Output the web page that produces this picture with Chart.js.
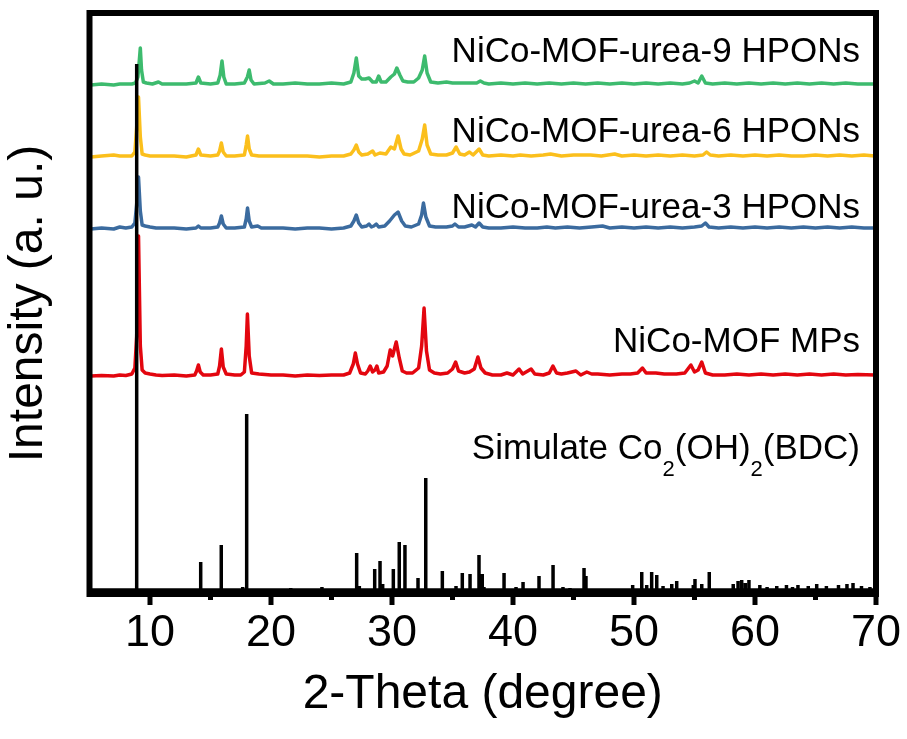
<!DOCTYPE html>
<html>
<head>
<meta charset="utf-8">
<script src="https://cdn.jsdelivr.net/npm/chart.js@4/dist/chart.umd.min.js"></script>
<style>
  html, body { margin: 0; padding: 0; background: #fff; }
  #wrap { width: 907px; height: 739px; }
</style>
</head>
<body>
<div id="wrap"><canvas id="c" width="907" height="739"></canvas></div>
<script>
// ---- data (2-theta, intensity relative to each pattern's own baseline) ----
const xTicks = [10, 20, 30, 40, 50, 60, 70];
const seriesNames = ['NiCo-MOF-urea-9 HPONs', 'NiCo-MOF-urea-6 HPONs', 'NiCo-MOF-urea-3 HPONs', 'NiCo-MOF MPs'];
const seriesOffsets = [509, 437, 365, 218];   // vertical stacking offsets (a.u.)
const simOffset = 4;

const urea9 = [[5.1,0],[6,1],[7,0],[7.5,1],[8,1],[8.5,1],[8.8,2],[9.0,8],[9.12,25],[9.2,37],[9.3,15],[9.45,3],[9.7,2],[10.2,1],[10.7,3],[11,1],[12,1],[13,1],[13.8,2],[14.0,8],[14.2,2],[15,1],[15.6,2],[15.8,10],[15.95,24],[16.1,8],[16.3,1],[17,1],[17.8,2],[18.05,8],[18.2,15],[18.35,5],[18.6,1],[19.5,2],[19.85,4],[20.2,1],[21,1],[22,2],[23,1],[24,1],[25,2],[26,1],[26.6,3],[26.85,12],[27.05,27],[27.25,9],[27.5,6],[27.8,6],[28.1,7],[28.4,3],[28.7,3],[28.9,9],[29.1,3],[29.5,3],[29.9,8],[30.2,11],[30.4,17],[30.65,10],[30.9,4],[31.3,3],[31.8,3],[32.2,7],[32.5,15],[32.7,29],[32.9,12],[33.2,3],[33.8,2],[34.5,3],[35,2],[36,2],[37.0,2],[37.3,4],[37.6,2],[38,1],[39,2],[40,1],[41,2],[42,1],[43,2],[44,1],[45,2],[46,1],[47,2],[48,1],[49,2],[50,1],[51,2],[52,1],[53,2],[54,1],[54.6,2],[55.0,4],[55.3,2],[55.6,9],[55.9,2],[56.5,1],[57.5,2],[58.5,1],[59.5,2],[60.5,1],[61.5,2],[62.5,1],[63.5,2],[64.5,1],[65.5,2],[66.5,1],[67.5,2],[68.5,1],[69.9,1]];

const urea6 = [[5.1,0],[6,1],[7,2],[7.5,1],[8,1],[8.5,1],[8.75,5],[8.9,30],[9.05,60],[9.2,20],[9.35,3],[9.6,2],[10,1],[11,1],[12,1],[13,0],[13.8,2],[14.0,8],[14.2,2],[15,1],[15.6,2],[15.75,6],[15.9,14],[16.05,5],[16.3,1],[17,1],[17.8,2],[17.95,12],[18.06,21],[18.2,8],[18.4,2],[19,1],[20,1],[21,1],[22,1],[23,1],[24,0],[25,1],[26,1],[26.6,3],[26.85,7],[27.05,12],[27.25,5],[27.5,2],[28.0,3],[28.4,6],[28.6,2],[29.0,4],[29.5,3],[29.9,10],[30.2,8],[30.5,21],[30.75,8],[31.0,3],[31.5,2],[32.2,6],[32.5,18],[32.7,32],[32.9,12],[33.2,3],[33.8,2],[34.5,2],[35.0,4],[35.3,10],[35.6,3],[36.0,2],[36.4,5],[36.7,2],[37.2,8],[37.5,2],[38,1],[39,2],[40,1],[40.6,2],[41.5,1],[42.5,2],[43.1,3],[44,1],[45,2],[46.4,2],[47.3,1],[48.4,3],[49,1],[50,2],[51,1],[52,2],[53,1],[54,2],[55,1],[55.7,2],[56.0,5],[56.3,2],[57,1],[58,2],[59,1],[60,2],[61,1],[62,2],[63,1],[64,1],[65,2],[66,1],[67,2],[68,1],[69,2],[69.9,1]];

const urea3 = [[5.1,0],[6,1],[7,0],[7.5,2],[8,1],[8.5,2],[8.75,6],[8.9,25],[9.05,52],[9.2,18],[9.35,4],[9.6,3],[10,2],[10.5,1],[11,1],[12,1],[13,0],[13.8,1],[14.0,3],[14.2,1],[15,1],[15.6,2],[15.75,6],[15.9,13],[16.05,5],[16.3,1],[17,1],[17.8,2],[17.95,10],[18.06,21],[18.2,8],[18.4,2],[18.9,3],[19.2,1],[20,1],[21,1],[22,0],[23,1],[24,1],[25,0],[26,1],[26.6,3],[26.85,8],[27.05,14],[27.25,6],[27.5,2],[27.9,3],[28.1,5],[28.3,2],[28.5,3],[28.7,5],[28.9,2],[29.4,3],[29.8,8],[30.2,14],[30.5,17],[30.8,8],[31.1,3],[31.6,2],[32.2,5],[32.45,14],[32.6,26],[32.8,12],[33.1,3],[33.6,2],[34.5,2],[35.0,3],[35.2,5],[35.5,2],[36,2],[36.6,4],[36.9,2],[37.2,6],[37.5,2],[38,1],[39,1],[40,2],[41,1],[42,1],[42.8,2],[43.5,1],[44.5,2],[45.5,1],[46.5,2],[47.4,3],[48,1],[49,2],[50,1],[51,2],[52,1],[53,2],[54,1],[55,2],[55.6,3],[55.9,6],[56.2,2],[57,1],[58,2],[59,1],[60,2],[61,1],[62,2],[63,1],[64,2],[65,1],[66,2],[67,1],[68,2],[69,1],[69.9,1]];

const mps = [[5.1,0],[6,0.5],[7,0],[7.5,1],[8,0.5],[8.5,2],[8.75,8],[8.9,40],[9.05,140],[9.2,30],[9.35,6],[9.6,3],[10,2],[10.5,1],[11,0.5],[12,1],[13,0],[13.7,1],[13.85,5],[14.0,11],[14.15,4],[14.4,1],[15,1],[15.6,2],[15.75,10],[15.9,27],[16.05,9],[16.3,2],[17,1],[17.5,1],[17.8,4],[17.95,30],[18.05,62],[18.2,20],[18.4,3],[19,2],[20,1],[21,1],[22,0],[23,1],[24,0.5],[25,1],[26,1],[26.5,3],[26.8,12],[26.97,23],[27.15,12],[27.4,3],[27.8,2],[28.0,5],[28.2,10],[28.4,4],[28.6,6],[28.75,10],[28.9,3],[29.3,4],[29.6,10],[29.85,26],[30.05,20],[30.35,34],[30.6,18],[30.85,5],[31.2,3],[31.7,3],[32.2,8],[32.45,30],[32.65,68],[32.85,25],[33.1,6],[33.5,3],[34,2],[34.6,3],[35.0,7],[35.26,14],[35.5,5],[36,3],[36.4,4],[36.8,7],[37.1,19],[37.35,8],[37.7,3],[38.3,1],[39,1],[39.5,3],[40,1],[40.5,7],[40.8,2],[41.5,7],[41.8,2],[42.5,1],[43.0,3],[43.3,10],[43.6,3],[44,2],[44.5,3],[45.2,5],[45.6,1],[46.1,4],[46.5,2],[47,2],[48,1],[49,2],[49.7,2],[50.3,3],[50.7,8],[51.0,3],[51.8,3],[52.5,2],[53,2],[53.5,2],[54.2,3],[54.7,11],[55.0,4],[55.3,6],[55.6,14],[55.9,3],[56.5,1],[57.5,1],[58.5,2],[59.5,1],[60.5,2],[61.5,1],[62.5,2],[63.5,1],[64.5,2],[65.5,1],[66.5,2],[67.5,1],[68.5,1.5],[69.9,1]];

// simulated Co2(OH)2(BDC) reflections
const stickPos = [8.90,14.19,15.89,17.66,17.99,21.63,24.21,27.08,27.30,28.57,29.01,29.23,30.11,30.60,31.07,32.15,32.79,34.16,35.29,35.81,36.45,37.19,37.46,37.60,39.26,40.25,40.83,42.15,43.31,44.13,44.71,45.87,46.03,49.89,50.64,51.05,51.46,51.88,52.40,53.12,53.53,54.90,55.04,55.60,56.22,58.2,58.6,58.9,59.2,59.5,60.4,61.0,61.8,62.6,63.1,63.55,64.4,65.1,65.9,66.9,67.6,68.1,68.8,69.5];
const stickHeight = [526,28,45,3,176,2,3,37,4,21,29,6,21,48,45,12,112,19,4,17,16,35,16,3,17,3,8,14,25,3,2,22,14,5,18,5,18,15,4,6,9,5,11,6,18,6,9,10,7,10,5,3,4,5,3,5,4,6,4,5,6,7,4,3];

const colors = ['#3dbb6e', '#fbbf1c', '#3b6b9f', '#e3060f', '#000000'];

// ---- build datasets ----
function shifted(arr, off) { return arr.map(p => ({x: p[0], y: p[1] + off})); }
const simData = [{x: 5, y: simOffset}];
stickPos.forEach((x, i) => {
  simData.push({x: x, y: simOffset});
  simData.push({x: x, y: simOffset + stickHeight[i]});
  simData.push({x: x, y: simOffset});
});
simData.push({x: 70, y: simOffset});

const curves = [urea9, urea6, urea3, mps];
const datasets = [{
  label: 'Simulate Co2(OH)2(BDC)', data: simData, borderColor: colors[4],
  borderWidth: 3.5, pointRadius: 0, tension: 0, borderJoinStyle: 'bevel'
}];
curves.forEach((c, i) => datasets.push({
  label: seriesNames[i], data: shifted(c, seriesOffsets[i]), borderColor: colors[i],
  borderWidth: 3.5, pointRadius: 0, tension: 0, borderJoinStyle: 'round'
}));

const FONT = 'Liberation Sans, Arial, Helvetica, sans-serif';

const decor = {
  id: 'decor',
  afterDraw(chart) {
    const {ctx, chartArea: a, scales} = chart;
    ctx.save();
    // frame
    ctx.strokeStyle = '#000';
    ctx.lineWidth = 6;
    ctx.strokeRect(a.left, a.top, a.right - a.left, a.bottom - a.top);
    // outward ticks, major every 10, minor every 5
    ctx.lineWidth = 5;
    for (let v = 10; v <= 70; v += 5) {
      const px = scales.x.getPixelForValue(v);
      const len = (v % 10 === 0) ? 11 : 6;
      ctx.beginPath();
      ctx.moveTo(px, a.bottom);
      ctx.lineTo(px, a.bottom + len);
      ctx.stroke();
    }
    // series labels
    ctx.fillStyle = '#000';
    ctx.textAlign = 'right';
    ctx.textBaseline = 'alphabetic';
    ctx.font = '35px ' + FONT;
    const rightX = a.right - 16;
    const baseY = [62, 142, 218, 352];
    seriesNames.forEach((n, i) => ctx.fillText(n, rightX, baseY[i]));
    // Simulate Co2(OH)2(BDC) with subscripts
    const parts = [['Simulate Co', false], ['2', true], ['(OH)', false], ['2', true], ['(BDC)', false]];
    const mainF = '35px ' + FONT, subF = '22px ' + FONT;
    let total = 0;
    parts.forEach(p => { ctx.font = p[1] ? subF : mainF; total += ctx.measureText(p[0]).width; });
    let xx = rightX - total;
    ctx.textAlign = 'left';
    parts.forEach(p => {
      ctx.font = p[1] ? subF : mainF;
      ctx.fillText(p[0], xx, p[1] ? 476 : 459);
      xx += ctx.measureText(p[0]).width;
    });
    ctx.restore();
  }
};

new Chart(document.getElementById('c'), {
  type: 'line',
  data: { datasets: datasets },
  options: {
    responsive: false,
    animation: false,
    layout: { padding: { top: 13, right: 31, left: 0, bottom: 0 } },
    plugins: { legend: { display: false }, tooltip: { enabled: false } },
    scales: {
      x: {
        type: 'linear', min: 5, max: 70,
        afterFit(s) { s.height = 145; s.paddingRight = 0; s.paddingLeft = 0; },
        grid: { display: false, drawTicks: false },
        border: { display: false },
        ticks: {
          stepSize: 10,
          autoSkip: false,
          maxRotation: 0,
          padding: 13,
          color: '#000',
          font: { family: FONT, size: 45 },
          callback: (v) => xTicks.includes(v) ? String(v) : ''
        },
        afterBuildTicks(s) { s.ticks = xTicks.map(v => ({value: v})); },
        title: {
          display: true, text: '2-Theta (degree)', color: '#000',
          font: { family: FONT, size: 48 }, padding: { top: 0, bottom: 15 }
        }
      },
      y: {
        type: 'linear', min: 0, max: 581,
        afterFit(s) { s.width = 89.5; },
        grid: { display: false, drawTicks: false },
        border: { display: false },
        ticks: { display: false },
        title: {
          display: true, text: 'Intensity (a. u.)', color: '#000',
          font: { family: FONT, size: 48 }, padding: { top: 0, bottom: 0 }
        }
      }
    }
  },
  plugins: [decor]
});
</script>
</body>
</html>
